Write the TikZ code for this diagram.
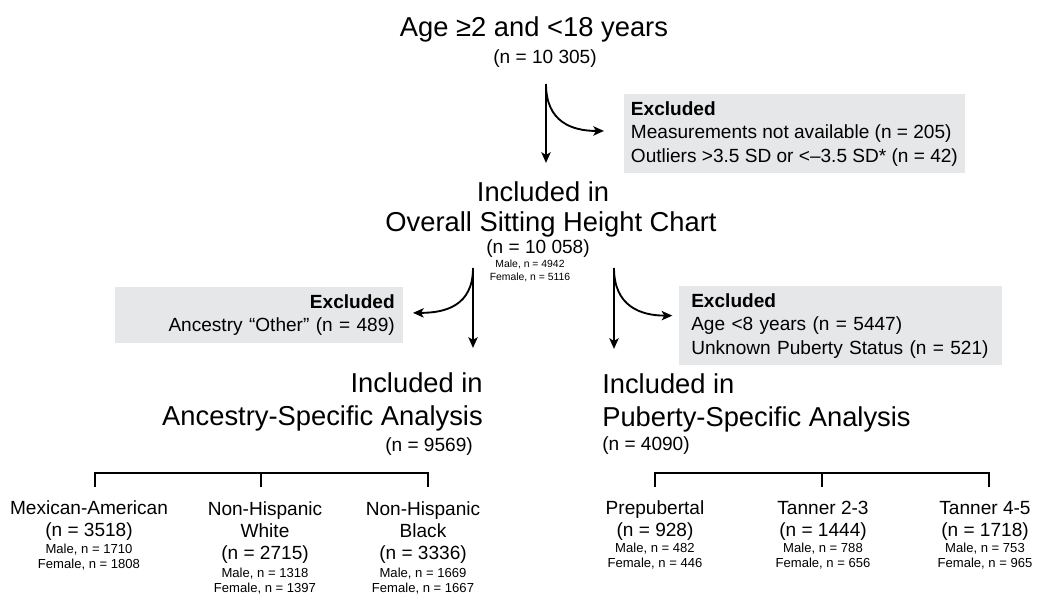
\documentclass[tikz,border=0pt]{standalone}
\usepackage{fontspec}
\setmainfont{Liberation Sans}
\usepackage{xcolor}
\usepackage{tikz}
\usetikzlibrary{arrows.meta,positioning}
\definecolor{exclgray}{HTML}{E6E7E8}

\begin{document}
\begin{tikzpicture}[
    x=0.75pt, y=-0.75pt,
    big/.style={font=\fontsize{20.5}{24.75}\selectfont, inner sep=0pt, anchor=base},
    count/.style={font=\fontsize{14.3}{16.5}\selectfont, align=center, inner sep=0pt, anchor=base},
    tinycount/.style={font=\fontsize{7.8}{9.75}\selectfont, align=center, inner sep=0pt, anchor=base},
    sexcount/.style={font=\fontsize{9.8}{11.25}\selectfont, align=center, inner sep=0pt, anchor=base},
    excluded/.style={fill=exclgray, font=\fontsize{14.3}{17.6}\selectfont, inner xsep=6pt, inner ysep=5.25pt},
    flow/.style={line width=1.4pt, -{Stealth[length=8pt, width=7pt, inset=2pt]}},
    bracket/.style={line width=1.4pt}
]
\useasboundingbox (0,0) rectangle (1037,595);

% whole sample
\node[big] (age) at (534,37) {Age ≥2 and <18 years};
\node[count] (agen) at (545,64) {(n = 10 305)};

\node[excluded, anchor=north west, align=left, inner xsep=5pt] (exclone) at (624,94)
    {\textbf{Excluded}\\Measurements not available (n = 205)\\Outliers >3.5 SD or <–3.5 SD* (n = 42)};

\node[big] (overallhead) at (543,201) {Included in};
\node[big] (overall) at (551,231) {Overall Sitting Height Chart};
\node[count] (overalln) at (538,253) {(n = 10 058)};
\node[tinycount] (overallsex) at (530,280) {Male, n = 4942\\Female, n = 5116};

\coordinate (forkone) at (546,84);
\draw[flow] (forkone) -- ([yshift=13.5pt]forkone |- overallhead.north);
\draw[flow] (forkone) .. controls +(0,38) and +(-32,0) .. ([xshift=-15pt, yshift=2pt]exclone.west);

% ancestry branch
\node[excluded, anchor=north east, text width=204pt, align=right] (exclanc) at (403,287)
    {\textbf{Excluded}\\Ancestry “Other” (n = 489)};
\node[big, align=right, anchor=base east] (anc) at (483,425)
    {Included in\\Ancestry-Specific Analysis};
\node[count, anchor=base east] (ancn) at (473,451) {(n = 9569)};

\coordinate (forkanc) at (473,268);
\draw[flow] (forkanc) -- ([yshift=18pt]forkanc |- anc.north);
\draw[flow] (forkanc) .. controls +(0,38) and +(32,0) .. ([xshift=7.5pt, yshift=1.5pt]exclanc.east);

% puberty branch
\node[excluded, anchor=north west, text width=224pt, align=left, inner xsep=9pt] (exclpub) at (679,286)
    {\textbf{Excluded}\\Age <8 years (n = 5447)\\Unknown Puberty Status (n = 521)};
\node[big, align=left, anchor=base west] (pub) at (602,426)
    {Included in\\Puberty-Specific Analysis};
\node[count, anchor=base west] (pubn) at (602,450) {(n = 4090)};

\coordinate (forkpub) at (614,268);
\draw[flow] (forkpub) -- ([yshift=18pt]forkpub |- pub.north);
\draw[flow] (forkpub) .. controls +(0,38) and +(-32,0) .. ([xshift=-5pt, yshift=7.5pt]exclpub.west);

% ancestry groups
\draw[bracket] (95,487) -- (95,473) -- (428,473) -- (428,487);
\draw[bracket] (261,473) -- (261,487);
\node[count] (mex) at (89,536) {Mexican-American\\(n = 3518)};
\node[sexcount] (mexsex) at (89,568) {Male, n = 1710\\Female, n = 1808};
\node[count] (nhw) at (265,559) {Non-Hispanic\\White\\(n = 2715)};
\node[sexcount] (nhwsex) at (265,592) {Male, n = 1318\\Female, n = 1397};
\node[count] (nhb) at (423,559) {Non-Hispanic\\Black\\(n = 3336)};
\node[sexcount] (nhbsex) at (423,592) {Male, n = 1669\\Female, n = 1667};

% puberty groups
\draw[bracket] (655,487) -- (655,473) -- (989,473) -- (989,487);
\draw[bracket] (822,473) -- (822,487);
\node[count] (prep) at (655,536) {Prepubertal\\(n = 928)};
\node[sexcount] (prepsex) at (655,567) {Male, n = 482\\Female, n = 446};
\node[count] (tanlow) at (823,536) {Tanner 2-3\\(n = 1444)};
\node[sexcount] (tanlowsex) at (823,567) {Male, n = 788\\Female, n = 656};
\node[count] (tanhigh) at (985,536) {Tanner 4-5\\(n = 1718)};
\node[sexcount] (tanhighsex) at (985,567) {Male, n = 753\\Female, n = 965};

\end{tikzpicture}
\end{document}
